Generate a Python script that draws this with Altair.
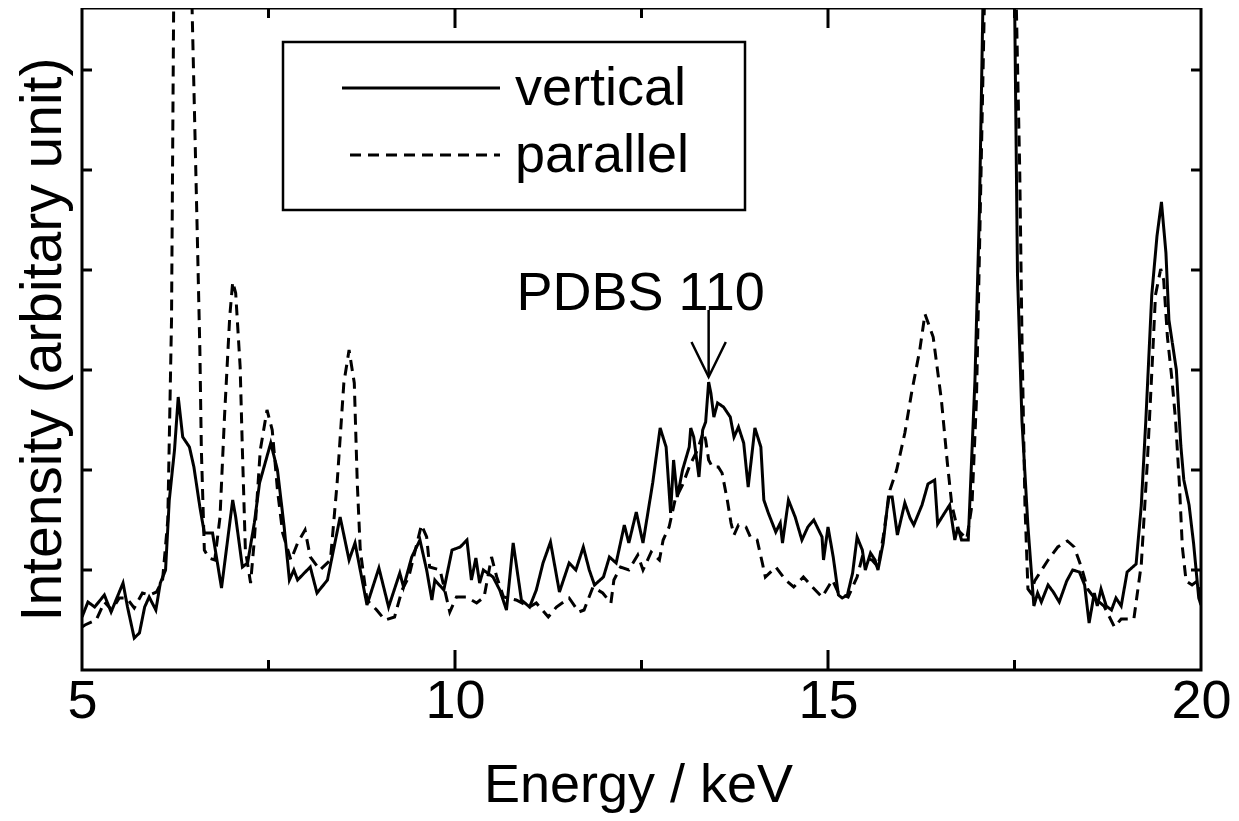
import altair as alt
import pandas as pd

FONT = "Liberation Sans, Arial, Helvetica, sans-serif"

# ---- data ----
series_names = ["vertical", "parallel"]

vert_energy = [5.0, 5.08, 5.17, 5.3, 5.39, 5.55, 5.61, 5.7, 5.77, 5.84, 5.9, 5.99, 6.05, 6.12, 6.17,
               6.24, 6.29, 6.35, 6.44, 6.5, 6.58, 6.64, 6.75, 6.87, 7.02, 7.06, 7.15, 7.22, 7.31, 7.38,
               7.53, 7.62, 7.71, 7.78, 7.84, 7.89, 7.98, 8.06, 8.15, 8.29, 8.46, 8.58, 8.66, 8.82, 8.98,
               9.11, 9.26, 9.31, 9.42, 9.53, 9.62, 9.69, 9.73, 9.85, 9.96, 10.07, 10.16, 10.22, 10.28,
               10.33, 10.38, 10.51, 10.6, 10.69, 10.78, 10.89, 11.0, 11.09, 11.18, 11.28, 11.4, 11.53,
               11.62, 11.72, 11.8, 11.87, 11.99, 12.07, 12.16, 12.27, 12.33, 12.43, 12.52, 12.65, 12.75,
               12.83, 12.89, 12.93, 12.98, 13.05, 13.14, 13.16, 13.2, 13.27, 13.32, 13.36, 13.4, 13.43,
               13.47, 13.52, 13.6, 13.69, 13.74, 13.8, 13.87, 13.93, 14.02, 14.1, 14.14, 14.2, 14.3,
               14.36, 14.39, 14.47, 14.56, 14.65, 14.73, 14.81, 14.92, 14.94, 15.0, 15.07, 15.14, 15.19,
               15.26, 15.33, 15.39, 15.46, 15.5, 15.57, 15.63, 15.67, 15.74, 15.81, 15.86, 15.93, 16.03,
               16.1, 16.15, 16.26, 16.34, 16.43, 16.47, 16.63, 16.7, 16.74, 16.79, 16.88, 16.97, 17.03,
               17.08, 17.2, 17.4, 17.5, 17.54, 17.6, 17.68, 17.76, 17.81, 17.86, 17.95, 18.02, 18.1,
               18.2, 18.28, 18.37, 18.44, 18.5, 18.57, 18.61, 18.66, 18.73, 18.8, 18.86, 18.93, 19.01,
               19.13, 19.2, 19.26, 19.34, 19.41, 19.47, 19.53, 19.57, 19.67, 19.73, 19.77, 19.84, 19.9,
               19.97, 20.0]
vert_intensity = [0.53, 0.68, 0.63, 0.75, 0.58, 0.87, 0.63, 0.32, 0.37, 0.63, 0.73, 0.60, 0.87, 1.0, 1.7,
                  2.2, 2.73, 2.33, 2.23, 2.03, 1.63, 1.37, 1.37, 0.82, 1.7, 1.53, 1.03, 1.07, 1.47, 1.87,
                  2.27, 2.0, 1.43, 0.9, 1.0, 0.9, 0.97, 1.03, 0.77, 0.9, 1.53, 1.1, 1.27, 0.65, 1.02,
                  0.63, 0.97, 0.83, 1.13, 1.3, 1.0, 0.7, 0.9, 0.8, 1.2, 1.23, 1.3, 0.9, 1.12,
                  0.87, 1.0, 0.93, 0.8, 0.6, 1.27, 0.7, 0.63, 0.8, 1.07, 1.28, 0.78, 1.07,
                  1.0, 1.23, 1.0, 0.85, 0.93, 1.13, 1.07, 1.45, 1.27, 1.58, 1.27, 1.87, 2.42,
                  2.23, 1.57, 2.1, 1.73, 2.0, 2.23, 2.42, 2.33, 1.93, 2.4, 2.48, 2.88, 2.77,
                  2.53, 2.67, 2.63, 2.53, 2.33, 2.43, 2.27, 1.83, 2.42, 2.23, 1.7, 1.57, 1.38,
                  1.47, 1.27, 1.7, 1.53, 1.3, 1.43, 1.5, 1.33, 1.1, 1.43, 1.13, 0.75, 0.72,
                  0.75, 0.97, 1.33, 1.2, 1.0, 1.17, 1.1, 1.0, 1.27, 1.73, 1.73, 1.35, 1.67,
                  1.52, 1.45, 1.65, 1.86, 1.9, 1.46, 1.65, 1.3, 1.43, 1.3, 1.3, 2.9, 4.6,
                  6.8, 9.0, 9.0, 6.8, 3.96, 2.49, 1.44, 0.64, 0.77, 0.68, 0.85, 0.78, 0.68,
                  0.89, 1.0, 0.98, 0.85, 0.47, 0.77, 0.64, 0.81, 0.64, 0.6, 0.72, 0.64, 0.98,
                  1.06, 1.65, 2.49, 3.75, 4.34, 4.68, 4.17, 3.5, 3.0, 2.24, 1.9, 1.65, 1.27,
                  0.72, 0.65]

par_energy = [5.0, 5.04, 5.19, 5.3, 5.4, 5.5, 5.6, 5.7, 5.81, 5.9, 6.0, 6.08, 6.15, 6.2, 6.23, 6.35,
              6.47, 6.55, 6.58, 6.6, 6.64, 6.7, 6.78, 6.85, 6.91, 6.98, 7.02, 7.06, 7.12, 7.15, 7.19,
              7.26, 7.31, 7.39, 7.48, 7.55, 7.62, 7.69, 7.8, 7.89, 7.99, 8.06, 8.19, 8.33, 8.42, 8.51,
              8.58, 8.65, 8.69, 8.73, 8.82, 8.95, 9.06, 9.19, 9.29, 9.38, 9.55, 9.62, 9.66, 9.8, 9.93,
              10.02, 10.15, 10.29, 10.39, 10.49, 10.56, 10.65, 10.82, 11.0, 11.09, 11.25, 11.36, 11.53,
              11.66, 11.73, 11.85, 11.98, 12.09, 12.13, 12.22, 12.33, 12.45, 12.52, 12.63, 12.74,
              12.79, 12.87, 12.95, 13.05, 13.15, 13.25, 13.33, 13.36, 13.4, 13.45, 13.53, 13.58,
              13.65, 13.7, 13.74, 13.8, 13.9, 13.96, 14.05, 14.12, 14.16, 14.3, 14.43, 14.54, 14.67,
              14.79, 14.92, 15.06, 15.14, 15.27, 15.39, 15.46, 15.59, 15.67, 15.74, 15.83, 15.92,
              16.03, 16.12, 16.23, 16.3, 16.41, 16.52, 16.6, 16.66, 16.74, 16.86, 16.93, 16.99,
              17.03, 17.1, 17.3, 17.52, 17.57, 17.6, 17.64, 17.68, 17.72, 17.77, 17.95, 18.08,
              18.21, 18.3, 18.4, 18.48, 18.57, 18.7, 18.84, 18.93, 19.1, 19.2, 19.28, 19.35, 19.39,
              19.46, 19.5, 19.55, 19.61, 19.66, 19.71, 19.75, 19.8, 19.88, 19.95, 20.0]
par_intensity = [0.43, 0.45, 0.5, 0.68, 0.6, 0.72, 0.72, 0.62, 0.77, 0.75, 0.78, 0.9, 1.5, 3.5, 6.8, 9.0,
                 6.8, 4.2, 3.2, 2.2, 1.2, 1.12, 1.1, 1.53, 2.53, 3.53, 3.88, 3.77, 3.03, 2.2, 1.2,
                 0.87, 1.3, 2.2, 2.6, 2.4, 1.8, 1.37, 1.1, 1.27, 1.4, 1.13, 1.0, 1.1, 1.87, 2.87,
                 3.2, 2.87, 1.87, 1.2, 0.7, 0.6, 0.5, 0.53, 0.8, 0.93, 1.45, 1.33, 1.03, 1.0, 0.58,
                 0.73, 0.73, 0.67, 0.73, 1.13, 0.93, 0.73, 0.7, 0.63, 0.67, 0.53, 0.63, 0.72,
                 0.58, 0.6, 0.83, 0.77, 0.67, 0.9, 1.03, 1.0, 1.15, 1.0, 1.18, 1.1,
                 1.3, 1.43, 1.7, 1.85, 2.05, 2.2, 2.38, 2.3, 2.1, 2.03, 2.03, 1.97,
                 1.7, 1.47, 1.35, 1.45, 1.43, 1.33, 1.3, 1.07, 0.93, 1.03, 0.9, 0.83, 0.93,
                 0.83, 0.73, 0.9, 0.77, 0.73, 0.93, 1.13, 1.1, 1.03, 1.33, 1.8, 2.0,
                 2.37, 2.77, 3.2, 3.56, 3.33, 2.7, 2.07, 1.65, 1.4, 1.31, 1.65, 2.7,
                 4.17, 6.8, 9.0, 6.8, 5.0, 3.33, 1.65, 0.81, 0.77, 0.89, 1.1, 1.23,
                 1.29, 1.23, 1.02, 0.81, 0.72, 0.64, 0.43, 0.51, 0.51, 1.06, 2.07, 3.12, 3.75,
                 4.01, 3.9, 3.33, 2.91, 2.49, 1.86, 1.23, 0.89, 0.85, 0.89, 0.72]

x_labels = [5, 10, 15, 20]
x_major_ticks = [10, 15]
x_minor_ticks = [7.5, 12.5, 17.5]
y_ticks = [1, 2, 3, 4, 5, 6]

x_title = "Energy / keV"
y_title = "Intensity (arbitary unit)"

annot_text = "PDBS 110"
annot_x = 13.4
annot_y_top = 3.6
annot_y_tip = 2.93

# ---- layout constants (pixels) ----
W, H = 1119, 662
PAD = {"left": 74, "top": 0, "right": 30, "bottom": 143}
xs = alt.Scale(domain=[5, 20], nice=False, zero=False)
ys = alt.Scale(domain=[0, 6.62], nice=False, zero=False)
SW = 3
DASH = [11, 7]

x_axis = alt.Axis(values=x_labels, ticks=False, tickSize=0, domain=False, grid=False,
                  labelFontSize=54, labelFont=FONT, labelColor="black", labelPadding=4,
                  labelFlush=False, labelOverlap=False, format="d",
                  title=x_title, titleFontSize=54, titleFont=FONT,
                  titleFontWeight="normal", titleColor="black",
                  titleX=556, titleY=131, titleBaseline="alphabetic")
y_axis = alt.Axis(labels=False, ticks=False, tickSize=0, domain=False, grid=False,
                  title=y_title, titleFontSize=57, titleFont=FONT,
                  titleFontWeight="normal", titleColor="black",
                  titleX=-22, titleBaseline="alphabetic")


def X(field):
    return alt.X(field, scale=xs, axis=x_axis, title=x_title)


def Y(field):
    return alt.Y(field, scale=ys, axis=y_axis, title=y_title)


df = pd.concat([
    pd.DataFrame({"energy": vert_energy, "intensity": vert_intensity, "series": series_names[0]}),
    pd.DataFrame({"energy": par_energy, "intensity": par_intensity, "series": series_names[1]}),
])

lines = alt.Chart(df).mark_line(clip=True, color="black", strokeWidth=SW).encode(
    x=X("energy:Q"),
    y=Y("intensity:Q"),
    strokeDash=alt.StrokeDash("series:N",
                              scale=alt.Scale(domain=series_names, range=[[1, 0], DASH]),
                              legend=None),
    detail="series:N",
)

layers = [lines]


# ---- inward ticks on all four sides ----
def xticks(vals, length):
    d = pd.DataFrame({"v": vals})
    bot = alt.Chart(d).mark_rule(color="black", strokeWidth=SW).encode(
        x=X("v:Q"), y=alt.value(H), y2=alt.value(H - length))
    top = alt.Chart(d).mark_rule(color="black", strokeWidth=SW).encode(
        x=X("v:Q"), y=alt.value(0), y2=alt.value(length))
    return [bot, top]


layers += xticks(x_major_ticks, 20)
layers += xticks(x_minor_ticks, 10)

dy = pd.DataFrame({"v": y_ticks})
layers.append(alt.Chart(dy).mark_rule(color="black", strokeWidth=SW).encode(
    y=Y("v:Q"), x=alt.value(0), x2=alt.value(10)))
layers.append(alt.Chart(dy).mark_rule(color="black", strokeWidth=SW).encode(
    y=Y("v:Q"), x=alt.value(W), x2=alt.value(W - 10)))

# ---- legend box (drawn by hand) ----
one = pd.DataFrame({"k": [0]})
layers.append(alt.Chart(one).mark_rect(filled=False, stroke="black", strokeWidth=2.5).encode(
    x=alt.value(201), x2=alt.value(663), y=alt.value(34), y2=alt.value(202)))
legend_rows = [(80, 260, [1, 0]), (147, 268, DASH)]
for name, (ly, lx0, dash) in zip(series_names, legend_rows):
    layers.append(alt.Chart(one).mark_rule(color="black", strokeWidth=SW, strokeDash=dash).encode(
        x=alt.value(lx0), x2=alt.value(418), y=alt.value(ly)))
    layers.append(alt.Chart(one).mark_text(align="left", baseline="alphabetic", fontSize=54,
                                           font=FONT, color="black").encode(
        x=alt.value(433), y=alt.value(ly + 17), text=alt.value(name)))

# ---- annotation arrow ----
ann = pd.DataFrame({"x": [annot_x], "y": [annot_y_top], "y2": [annot_y_tip], "t": [annot_text]})
layers.append(alt.Chart(ann).mark_rule(color="black", strokeWidth=2.5).encode(
    x=X("x:Q"), y=Y("y:Q"), y2="y2:Q"))
head = pd.DataFrame({
    "x": [annot_x - 0.23, annot_x, annot_x + 0.23],
    "y": [annot_y_tip + 0.35, annot_y_tip, annot_y_tip + 0.35],
    "o": [0, 1, 2],
})
layers.append(alt.Chart(head).mark_line(color="black", strokeWidth=2.5).encode(
    x=X("x:Q"), y=Y("y:Q"), order="o:Q"))
layers.append(alt.Chart(ann).mark_text(align="center", baseline="alphabetic", fontSize=54,
                                       font=FONT, color="black", dx=-68).encode(
    x=X("x:Q"), y=Y("y:Q"), text="t:N"))

chart = alt.layer(*layers).properties(
    width=W, height=H,
    autosize=alt.AutoSizeParams(type="none"),
    padding=PAD,
    background="white",
).configure_view(stroke="black", strokeWidth=3)

chart.save("out.html", embed_options={"renderer": "svg", "actions": False})
